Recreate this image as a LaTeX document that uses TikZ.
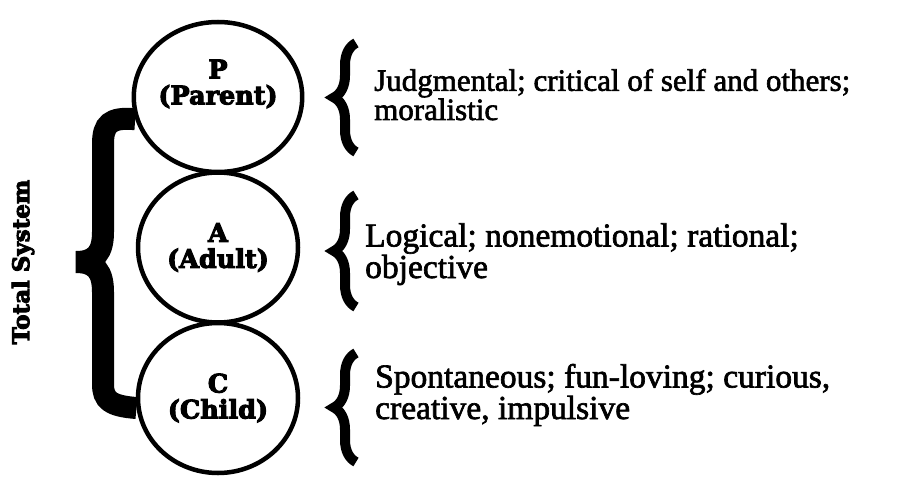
\documentclass[tikz,border=0pt]{standalone}
\usepackage{fontspec}
\setmainfont{Liberation Serif}[FakeBold=2]
\newfontfamily\egofont{DejaVu Serif}[BoldFeatures={FakeBold=4}]
\usetikzlibrary{positioning,shapes.geometric,decorations.pathreplacing}
\begin{document}
\begin{tikzpicture}[x=1pt, y=1pt, node distance={-4pt},
    ego/.style = {draw, ellipse, line width=4.5pt, minimum width=160pt, minimum height=150pt, inner sep=0pt, align=center, font=\egofont\bfseries\fontsize{25.5}{26}\selectfont},
    desc/.style = {anchor=base west, align=left, inner sep=0pt, font=\fontsize{#1}{27}\selectfont},
    rbrace/.style = {decorate, decoration={brace, amplitude=22pt}, line width=10pt},
    bigbrace/.style = {line width=22pt}]
    \useasboundingbox (0,0) rectangle (901,-476);
    \node[ego, text depth=30pt] (P) at (218,-97) {P\\(Parent)};
    \node[ego] (A) [below=of P] {A\\(Adult)};
    \node[ego] (C) [below=of A] {C\\(Child)};
    % big brace round the three states
    \draw[bigbrace] (C.187) .. controls (110,-406) and (103,-400) .. (103,-384)
        -- (103,-292) .. controls (103,-272) and (96,-262) .. (76,-262)
        .. controls (96,-262) and (103,-252) .. (103,-232)
        -- (103,-144) .. controls (103,-124) and (110,-117) .. (P.195);
    \node[rotate=90, font=\egofont\bfseries\fontsize{23}{23}\selectfont] (sys) at (23,-262) {Total System};
    \coordinate (b1s) at (356,-152);
    \coordinate (b1e) at (356,-43);
    \coordinate (b2s) at (356,-307);
    \coordinate (b2e) at (356,-195);
    \coordinate (b3s) at (356,-462);
    \coordinate (b3e) at (356,-353);
    \draw[rbrace] (b1s) -- (b1e);
    \draw[rbrace] (b2s) -- (b2e);
    \draw[rbrace] (b3s) -- (b3e);
    \node[desc=31] (dp) at (374,-120) {Judgmental; critical of self and others;\\moralistic};
    \node[desc=33.5] (da) at (365,-278) {Logical; nonemotional; rational;\\objective};
    \node[desc=33.5] (dc) at (375,-419) {Spontaneous; fun-loving; curious,\\creative, impulsive};
\end{tikzpicture}
\end{document}
